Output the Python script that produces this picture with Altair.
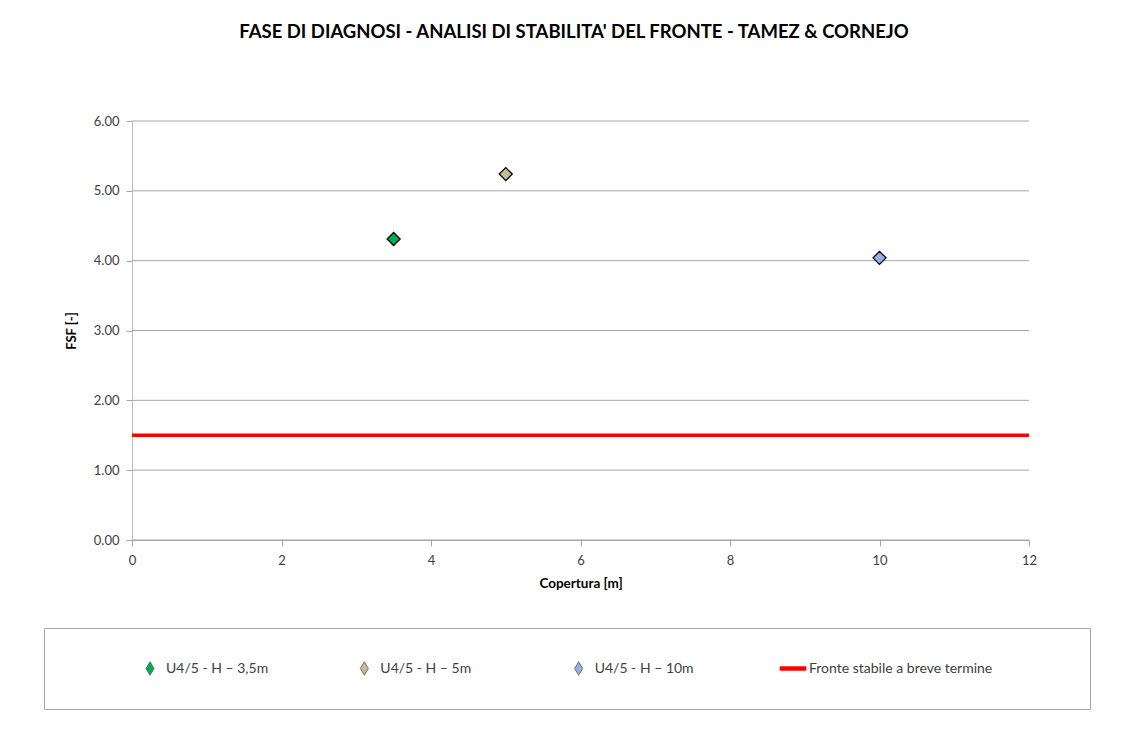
import altair as alt
import pandas as pd

# ---- data ----
serie = ["U4/5 - H – 3,5m", "U4/5 - H – 5m", "U4/5 - H – 10m"]
copertura = [3.5, 5.0, 10.0]
fsf = [4.31, 5.24, 4.04]
soglia_nome = "Fronte stabile a breve termine"
soglia = [1.5]
x_ticks = [0, 2, 4, 6, 8, 10, 12]
y_ticks = [0, 1, 2, 3, 4, 5, 6]
colori = ["#00B050", "#C4BD97", "#8EB4E3", "#FF0000"]
titolo = "FASE DI DIAGNOSI - ANALISI DI STABILITA' DEL FRONTE - TAMEZ & CORNEJO"

FONT = "Lato"
GRID = "#a6a6a6"
legend_names = serie + [soglia_nome]
X_MIN, X_MAX = 0, 12
Y_MIN, Y_MAX = 0, 6

punti = pd.DataFrame({"serie": serie, "copertura": copertura, "fsf": fsf})
soglia_df = pd.DataFrame({"fsf": soglia, "serie": [soglia_nome]})
griglia_df = pd.DataFrame({"fsf": y_ticks})
legenda_df = pd.DataFrame({"serie": legend_names})

fill_scale = alt.Scale(domain=legend_names, range=colori)
# the plot area starts 88px right of the panel origin (room for the y axis)
x_scale = alt.Scale(domain=[X_MIN, X_MAX], nice=False, range=[88, 985])
y_scale = alt.Scale(domain=[Y_MIN, Y_MAX], nice=False)

x_axis = alt.Axis(
    values=x_ticks, format="d", grid=False, labelFlush=False,
    domainColor=GRID, tickColor=GRID, tickSize=6,
    labelPadding=8, labelFont=FONT, labelFontSize=13, labelColor="#404040",
    titleFont=FONT, titleFontSize=13.5, titleFontWeight="bold", titleColor="black",
    titlePadding=9,
)
y_axis = alt.Axis(
    values=y_ticks, format=".2f", grid=False, offset=-88, labelFlush=False,
    domainColor="#bfbfbf", tickColor=GRID, tickSize=6, labelPadding=7,
    labelFont=FONT, labelFontSize=13, labelColor="#404040",
    titleFont=FONT, titleFontSize=13, titleFontWeight="bold", titleColor="black",
    titleAngle=270, titleX=-61, titleY=209.5, titleAlign="center", titleBaseline="middle",
)

griglia = alt.Chart(griglia_df).mark_rule(color=GRID, strokeWidth=1).encode(
    y=alt.Y("fsf:Q", scale=y_scale, title="FSF [-]", axis=y_axis),
    x=alt.datum(X_MIN, scale=x_scale),
    x2=alt.datum(X_MAX),
)
linea = alt.Chart(soglia_df).mark_rule(color="#FF0000", strokeWidth=3.5).encode(
    y=alt.Y("fsf:Q", scale=y_scale),
    x=alt.datum(X_MIN, scale=x_scale),
    x2=alt.datum(X_MAX),
)
pts = alt.Chart(punti).mark_point(
    filled=True, shape="diamond", size=170, stroke="black", strokeWidth=1.3, opacity=1
).encode(
    x=alt.X("copertura:Q", title="Copertura [m]", scale=x_scale, axis=x_axis),
    y=alt.Y("fsf:Q", scale=y_scale),
    fill=alt.Fill("serie:N", scale=fill_scale, legend=None),
)
main = alt.layer(griglia, linea, pts).properties(width=985, height=419)

# ---- legend panel ----
leg_base = alt.Chart(legenda_df).encode(
    x=alt.X(
        "serie:N", sort=legend_names, axis=None,
        scale=alt.Scale(type="point", domain=legend_names, range=[106, 749], padding=0),
    )
)
sym = leg_base.mark_point(filled=True, size=80, strokeWidth=0.8, opacity=1).encode(
    fill=alt.Fill("serie:N", scale=fill_scale, legend=None),
    shape=alt.Shape(
        "serie:N", legend=None,
        scale=alt.Scale(
            domain=legend_names,
            range=["M0,-1.5L0.9,0L0,1.5L-0.9,0Z"] * 3 + ["M-2.9,-0.4H2.9V0.4H-2.9Z"],
        ),
    ),
    stroke=alt.Stroke(
        "serie:N", legend=None,
        scale=alt.Scale(domain=legend_names, range=["#555555"] * 3 + ["#FF0000"]),
    ),
)
txt = leg_base.mark_text(align="left", dx=16, font=FONT, fontSize=14, color="#404040").encode(
    text="serie:N"
)
legenda = alt.layer(sym, txt).properties(
    width=1046, height=81, view=alt.ViewBackground(stroke="#a6a6a6", strokeWidth=1)
)

chart = (
    alt.vconcat(main, legenda, spacing=37)
    .properties(
        title=alt.Title(
            titolo, font=FONT, fontSize=18.5, fontWeight="bold", color="black",
            anchor="middle", offset=73.5, dx=7,
        ),
        padding={"left": 35, "top": 14, "right": 5, "bottom": 5},
        background="white",
    )
    .resolve_scale(x="independent", shape="independent", stroke="independent")
    .configure_view(stroke="transparent")
)

chart.save("out.html", embed_options={"renderer": "svg", "actions": False})
